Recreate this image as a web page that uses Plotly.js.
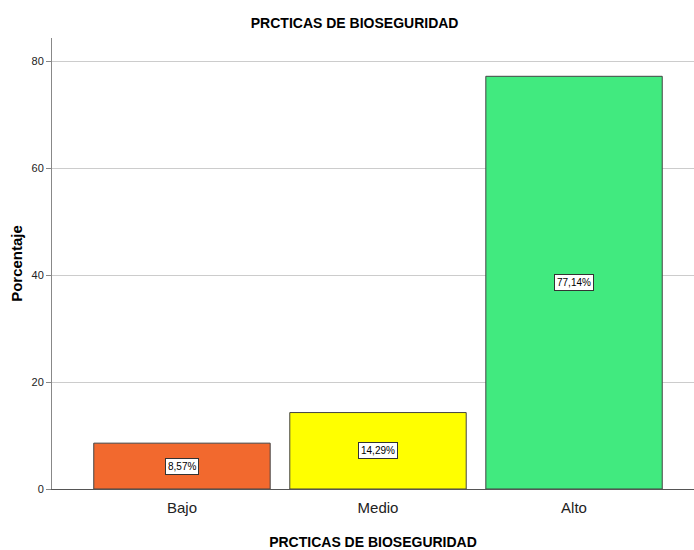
<!DOCTYPE html>
<html><head><meta charset="utf-8">
<script src="https://cdn.plot.ly/plotly-3.0.1.min.js"></script>
<style>body{margin:0;padding:0;background:#fff}#chart{width:694px;height:550px}</style>
</head><body><div id="chart"></div>
<script>
const categories = ["Bajo", "Medio", "Alto"];
const values = [8.57, 14.29, 77.14];
const labels = ["8,57%", "14,29%", "77,14%"];
const colors = ["#F2692E", "#FFFF00", "#41EA7F"];
const yTicks = [0, 20, 40, 60, 80];

const narrow = "Liberation Sans Narrow, Arial Narrow, Liberation Sans, Arial, sans-serif";

const trace = {
  type: "bar",
  x: categories,
  y: values,
  width: 0.9,
  marker: {color: colors, line: {color: "#444444", width: 1}},
  hoverinfo: "none"
};

const annotations = categories.map((c, i) => ({
  x: c, y: values[i] / 2, xref: "x", yref: "y",
  text: labels[i], showarrow: false,
  font: {family: narrow, size: 10, color: "#000"},
  bgcolor: "#ffffff", bordercolor: "#333333", borderwidth: 1, borderpad: 2
}));

const layout = {
  width: 694, height: 550,
  margin: {l: 52, r: 0, t: 38, b: 61},
  paper_bgcolor: "#fff", plot_bgcolor: "#fff",
  showlegend: false,
  title: {text: "PRCTICAS DE BIOSEGURIDAD", x: 0.511, xanchor: "center", y: 0.958, yanchor: "middle",
          font: {family: narrow, size: 14, color: "#000", weight: "bold"}},
  xaxis: {
    range: [-0.663, 2.612], showgrid: false, zeroline: false,
    showline: true, linecolor: "#555", linewidth: 1,
    ticks: "", ticklabelstandoff: 5, tickfont: {family: narrow, size: 15, color: "#222"},
    title: {text: "PRCTICAS DE BIOSEGURIDAD", standoff: 22,
            font: {family: narrow, size: 14, color: "#000", weight: "bold"}}
  },
  yaxis: {
    range: [0, 84.3], tickvals: yTicks, ticktext: yTicks.map(String),
    showgrid: true, gridcolor: "#cccccc", gridwidth: 1, zeroline: false,
    showline: true, linecolor: "#888", linewidth: 1,
    ticks: "outside", ticklen: 5, tickcolor: "#888",
    tickfont: {family: narrow, size: 11, color: "#222"},
    title: {text: "Porcentaje", standoff: 5,
            font: {family: "Liberation Sans, Arial, sans-serif", size: 15, color: "#000", weight: "bold"}}
  },
  annotations: annotations
};

Plotly.newPlot("chart", [trace], layout, {staticPlot: true, displayModeBar: false});
</script></body></html>
